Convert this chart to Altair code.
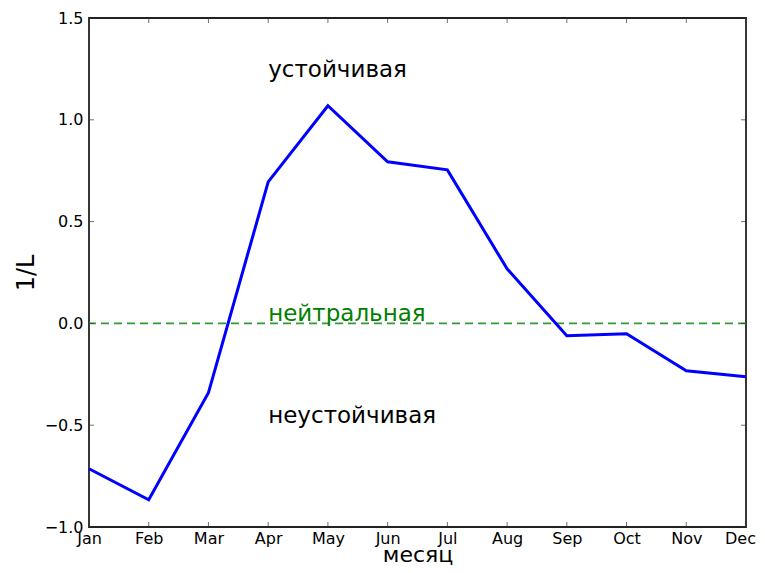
import altair as alt
import pandas as pd

months = ["Jan", "Feb", "Mar", "Apr", "May", "Jun", "Jul", "Aug", "Sep", "Oct", "Nov", "Dec"]
values = [-0.714, -0.866, -0.34, 0.695, 1.069, 0.794, 0.754, 0.268, -0.061, -0.051, -0.233, -0.262]
y_ticks = [-1.0, -0.5, 0.0, 0.5, 1.0, 1.5]
ann_text = ["устойчивая", "нейтральная", "неустойчивая"]
ann_x = [3, 3, 3]
ann_y = [1.2, 0.0, -0.5]
ann_color = ["black", "green", "black"]

W, H = 657, 509

df = pd.DataFrame({"idx": list(range(len(months))), "month": months, "v": values})
dfy = pd.DataFrame({"y": y_ticks})
dfa = pd.DataFrame({"x": ann_x, "y": ann_y, "t": ann_text, "c": ann_color})
dfz = pd.DataFrame({"y": [0.0]})

label_expr = "[" + ",".join("'%s'" % m for m in months) + "][datum.value]"

xs = alt.Scale(domain=[0, 11], nice=False, zero=False)
ys = alt.Scale(domain=[-1.0, 1.5], nice=False, zero=False)

font = "DejaVu Sans"

line = alt.Chart(df).mark_line(color="#0000ff", strokeWidth=3).encode(
    x=alt.X("idx:Q", scale=xs, title="месяц",
            axis=alt.Axis(values=list(range(12)), labelExpr=label_expr, labelFlush=False,
                          labelOverlap=False, labelBound=False, tickSize=0, domain=False,
                          grid=False, labelFontSize=16, labelFont=font, labelColor="black",
                          labelPadding=3,
                          labelOffset={"condition": {"test": "datum.value == 11", "value": -6}, "value": 0},
                          titleFontSize=22, titleFont=font,
                          titleFontWeight="normal", titleColor="black",
                          titleBaseline="alphabetic", titleX=W / 2, titleY=34)),
    y=alt.Y("v:Q", scale=ys, title="1/L",
            axis=alt.Axis(values=y_ticks, format=".1f", labelFlush=False, labelOverlap=False,
                          labelBound=False, tickSize=0, domain=False, grid=False,
                          labelFontSize=16, labelFont=font, labelColor="black", labelPadding=6,
                          titleFontSize=24, titleFont=font, titleFontWeight="normal",
                          titleColor="black", titleBaseline="alphabetic",
                          titleX=-56, titleY=H / 2)),
)

zero = alt.Chart(dfz).mark_rule(color="#339933", strokeWidth=1.8, strokeDash=[8, 5]).encode(
    y=alt.Y("y:Q", scale=ys)
)

tick_style = dict(clip=True, size=10, thickness=1, color="#333333")
tx_b = alt.Chart(df).mark_tick(**tick_style).encode(x=alt.X("idx:Q", scale=xs), y=alt.value(H))
tx_t = alt.Chart(df).mark_tick(**tick_style).encode(x=alt.X("idx:Q", scale=xs), y=alt.value(0))
ty_l = alt.Chart(dfy).mark_tick(**tick_style).encode(y=alt.Y("y:Q", scale=ys), x=alt.value(0))
ty_r = alt.Chart(dfy).mark_tick(**tick_style).encode(y=alt.Y("y:Q", scale=ys), x=alt.value(W))

ann = alt.Chart(dfa).mark_text(align="left", baseline="alphabetic", fontSize=23, font=font, dy=-2).encode(
    x=alt.X("x:Q", scale=xs),
    y=alt.Y("y:Q", scale=ys),
    text="t:N",
    color=alt.Color("c:N", scale=None),
)

chart = alt.layer(zero, line, tx_b, tx_t, ty_l, ty_r, ann).properties(
    width=W, height=H,
    autosize=alt.AutoSizeParams(type="none"),
    padding={"left": 81, "top": 10, "right": 11, "bottom": 38},
).configure(background="white").configure_view(stroke="#222222", strokeWidth=1.8)

chart.save("out.html", embed_options={"renderer": "svg", "actions": False})
